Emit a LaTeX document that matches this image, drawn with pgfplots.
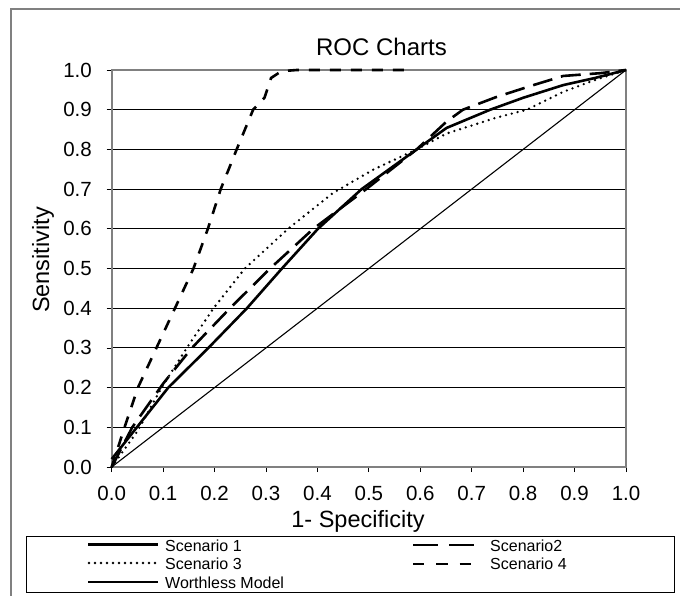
\documentclass[border=0pt]{standalone}
\usepackage{fontspec}
\setmainfont{Liberation Sans}
\usepackage{pgfplots}
\pgfplotsset{compat=1.18}
\definecolor{framegray}{RGB}{128,128,128}

% ROC curves (x = 1 - specificity, y = sensitivity)
\pgfplotstableread{
x y
0 0.02
0.049 0.10
0.11 0.20
0.188 0.30
0.263 0.40
0.331 0.50
0.401 0.60
0.486 0.70
0.593 0.80
0.651 0.854
0.736 0.90
0.80 0.93
0.878 0.962
0.94 0.98
1 1
}\scenone
\pgfplotstableread{
x y
0 0
0.04 0.10
0.10 0.21
0.156 0.30
0.23 0.40
0.308 0.50
0.392 0.60
0.495 0.70
0.593 0.80
0.651 0.87
0.683 0.90
0.748 0.932
0.82 0.962
0.878 0.985
0.95 0.992
1 1
}\scentwo
\pgfplotstableread{
x y
0 0
0.05 0.09
0.097 0.20
0.146 0.30
0.198 0.40
0.259 0.50
0.343 0.60
0.43 0.69
0.51 0.75
0.593 0.80
0.651 0.84
0.748 0.88
0.807 0.90
0.878 0.945
0.94 0.975
1 1
}\scenthree
\pgfplotstableread{
x y
0 0
0.025 0.10
0.051 0.20
0.087 0.30
0.123 0.40
0.159 0.50
0.187 0.60
0.212 0.70
0.243 0.80
0.275 0.90
0.297 0.93
0.31 0.98
0.33 0.997
0.36 1.0
0.57 1.0
}\scenfour

\begin{document}
\begin{tikzpicture}[x=1pt,y=1pt]
\path[use as bounding box, clip] (0,0) rectangle (680,-596);
\fill[white] (0,0) rectangle (680,-596);
\draw[framegray, line width=1.5pt] (11,-9) rectangle (700,-620);

\node[anchor=base, font=\fontsize{24}{28}\selectfont] at (381.5,-56) {ROC Charts};

\begin{axis}[
    at={(111.7pt,-467pt)}, anchor=south west,
    scale only axis, width=514.3pt, height=397pt,
    xmin=0, xmax=1, ymin=0, ymax=1,
    xtick={0,0.1,0.2,0.3,0.4,0.5,0.6,0.7,0.8,0.9,1},
    ytick={0,0.1,0.2,0.3,0.4,0.5,0.6,0.7,0.8,0.9,1},
    /pgf/number format/.cd, fixed, fixed zerofill, precision=1, assume math mode=true,
    /pgfplots/.cd,
    tick align=outside, tick pos=left, major tick length=5pt,
    tick style={black, line width=0.8pt},
    ymajorgrids, grid style={black, line width=0.9pt},
    axis line style={framegray, line width=1.8pt},
    ticklabel style={font=\fontsize{20.5}{24}\selectfont},
    xticklabel style={anchor=north, inner sep=0pt, yshift=-14pt},
    yticklabel style={anchor=east, inner sep=0pt, xshift=-14.7pt},
    xlabel={1- Specificity}, ylabel={Sensitivity},
    label style={font=\fontsize{23.5}{28}\selectfont},
    xlabel style={at={(axis description cs:0.4789,-0.1529)}, anchor=base},
    ylabel style={at={(axis description cs:-0.1219,0.5214)}, anchor=base},
    clip=false,
  ]
  \addplot[black, line width=1.1pt] coordinates {(0,0) (1,1)};
  \addplot[black, line width=2.6pt, line join=round] table[x=x, y=y] {\scenone};
  \addplot[black, line width=2.6pt, dash pattern=on 20pt off 9pt] table[x=x, y=y] {\scentwo};
  \addplot[black, line width=2.6pt, line cap=round, dash pattern=on 0pt off 6pt] table[x=x, y=y] {\scenthree};
  \addplot[black, line width=2.6pt, dash pattern=on 11pt off 10pt] table[x=x, y=y] {\scenfour};
\end{axis}

% legend
\draw[black, line width=1pt] (26,-536) rectangle (674,-592);
\begin{scope}[font=\fontsize{16}{19}\selectfont]
  \draw[black, line width=2.6pt] (88,-544.3) -- (158,-544.3);
  \node[anchor=base west, inner sep=0pt] at (165,-551) {Scenario 1};
  \draw[black, line width=2.6pt, line cap=round, dash pattern=on 0pt off 6pt] (89,-563) -- (158,-563);
  \node[anchor=base west, inner sep=0pt] at (165,-569.5) {Scenario 3};
  \draw[black, line width=1.1pt] (88,-582) -- (158,-582);
  \node[anchor=base west, inner sep=0pt] at (165,-588) {Worthless Model};
  \draw[black, line width=2.6pt, dash pattern=on 25pt off 11pt] (413,-545) -- (474,-545);
  \node[anchor=base west, inner sep=0pt] at (490,-551) {Scenario2};
  \draw[black, line width=2.6pt, dash pattern=on 11.3pt off 12pt] (413,-564) -- (474,-564);
  \node[anchor=base west, inner sep=0pt] at (490,-569.5) {Scenario 4};
\end{scope}
\end{tikzpicture}
\end{document}
